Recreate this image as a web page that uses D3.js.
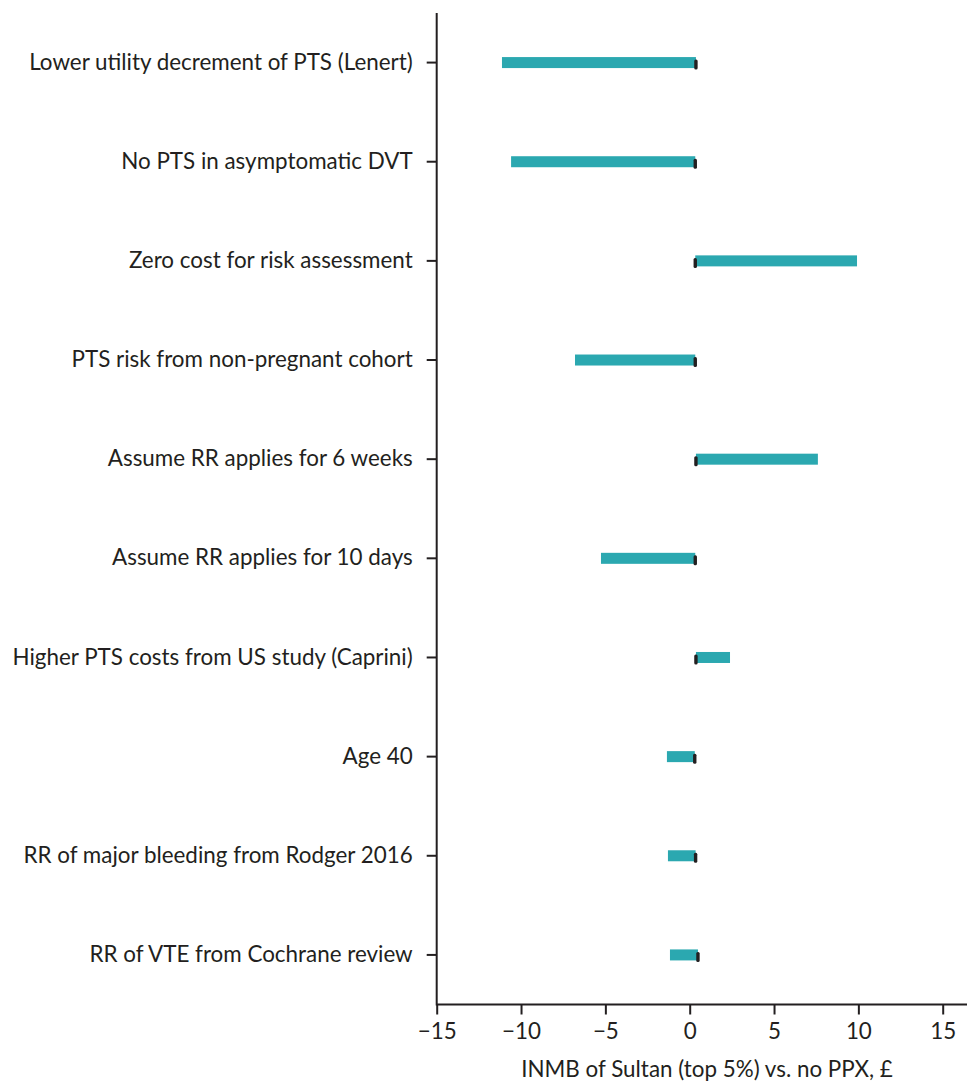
<!DOCTYPE html>
<html><head><meta charset="utf-8">
<script src="https://cdn.jsdelivr.net/npm/d3@7"></script>
<style>
body{margin:0;background:#fff;}
svg{display:block;font-family:Lato,"Open Sans",sans-serif;}
</style></head>
<body>
<script>
const categories = [
  "Lower utility decrement of PTS (Lenert)",
  "No PTS in asymptomatic DVT",
  "Zero cost for risk assessment",
  "PTS risk from non-pregnant cohort",
  "Assume RR applies for 6 weeks",
  "Assume RR applies for 10 days",
  "Higher PTS costs from US study (Caprini)",
  "Age 40",
  "RR of major bleeding from Rodger 2016",
  "RR of VTE from Cochrane review"
];
const lowValues  = [-11.13, -10.59, 0.33, -6.8, 0.37, -5.26, 0.37, -1.35, -1.29, -1.17];
const highValues = [0.37, 0.33, 9.92, 0.33, 7.6, 0.33, 2.39, 0.30, 0.35, 0.49];
const baseValues = [0.37, 0.33, 0.33, 0.33, 0.37, 0.33, 0.37, 0.30, 0.35, 0.49];
const xTicks = [-15, -10, -5, 0, 5, 10, 15];
const xTitle = "INMB of Sultan (top 5%) vs. no PPX, £";

const W = 967, H = 1083;
const ink = "#231f20";
const teal = "#2ba8b0";
const fs = 22.4;
const svg = d3.select("body").append("svg").attr("width", W).attr("height", H);

const x = d3.scaleLinear().domain([-15, 15]).range([436.7, 942.7]);
const y = d3.scaleBand().domain(categories).range([13, 1004.5]);

const rows = categories.map((c, i) => ({c, lo: lowValues[i], hi: highValues[i], base: baseValues[i]}));

// bars
svg.append("g").selectAll("rect").data(rows).join("rect")
  .attr("x", d => x(d.lo))
  .attr("width", d => x(d.hi) - x(d.lo))
  .attr("y", d => y(d.c) + y.bandwidth()/2 - 5.5)
  .attr("height", 11)
  .attr("fill", teal);

// base markers
svg.append("g").selectAll("rect").data(rows).join("rect")
  .attr("x", d => x(d.base) - 1.7)
  .attr("width", 3.4)
  .attr("y", d => y(d.c) + y.bandwidth()/2 - 3)
  .attr("height", 10)
  .attr("rx", 1.5)
  .attr("fill", ink);

// x axis
const xAxis = d3.axisBottom(x).tickValues(xTicks).tickSize(10).tickPadding(9)
  .tickFormat(d => d < 0 ? "\u2212" + Math.abs(d) : String(d));
const gx = svg.append("g").attr("transform", "translate(0,1004.5)").call(xAxis);
gx.select(".domain").remove();
gx.append("line").attr("x1", x(-15)).attr("x2", W).attr("y1", 0).attr("y2", 0)
  .attr("stroke", ink).attr("stroke-width", 2);
gx.selectAll(".tick line").attr("stroke", ink).attr("stroke-width", 2);
gx.selectAll(".tick text").attr("fill", ink).attr("font-size", fs).attr("font-family", "Lato");

// y axis
const yAxis = d3.axisLeft(y).tickSize(10).tickPadding(14);
const gy = svg.append("g").attr("transform", `translate(${x(-15)},0)`).call(yAxis);
gy.select(".domain").remove();
gy.append("line").attr("x1", 0).attr("x2", 0).attr("y1", 13).attr("y2", 1005.5)
  .attr("stroke", ink).attr("stroke-width", 2);
gy.selectAll(".tick line").attr("stroke", ink).attr("stroke-width", 2);
gy.selectAll(".tick text").attr("fill", ink).attr("font-size", fs).attr("font-family", "Lato");

svg.append("text").attr("x", 707).attr("y", 1077).attr("text-anchor", "middle")
  .attr("font-size", fs).attr("fill", ink).text(xTitle);
</script>
</body></html>
